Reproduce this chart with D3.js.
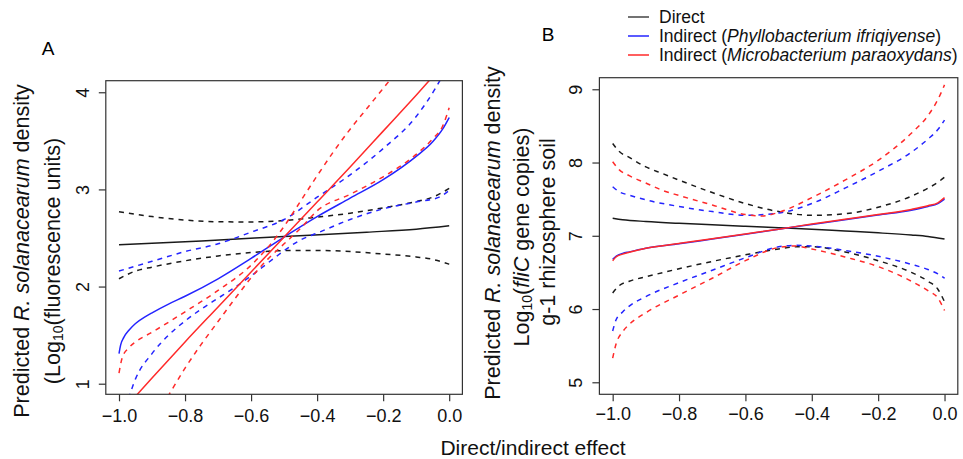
<!DOCTYPE html>
<html>
<head>
<meta charset="utf-8">
<script src="https://cdn.jsdelivr.net/npm/d3@7"></script>
<style>
  body { margin: 0; background: #fff; }
  svg { font-family: 'Liberation Sans', Arial, sans-serif; }
</style>
</head>
<body>
<div id="chart"></div>
<script>
// shared ticks
const xTicks = [-1.0, -0.8, -0.6, -0.4, -0.2, 0.0]
const aYTicks = [1, 2, 3, 4]
const bYTicks = [5, 6, 7, 8, 9]

const legendLabels = ['Direct', 'Phyllobacterium ifriqiyense', 'Microbacterium paraoxydans']

// panel A: fluorescence, [effect, predicted]
const aDirectFit = [[-1, 2.43], [-0.75, 2.47], [-0.5, 2.515], [-0.25, 2.56], [-0.1, 2.59], [0, 2.625]]
const aDirectLow = [[-1, 2.08], [-0.95, 2.16], [-0.9, 2.2], [-0.8, 2.265], [-0.7, 2.315], [-0.6, 2.35], [-0.5, 2.37],
  [-0.4, 2.372], [-0.3, 2.36], [-0.2, 2.335], [-0.1, 2.305], [-0.05, 2.28], [0, 2.23]]
const aDirectHigh = [[-1, 2.77], [-0.9, 2.72], [-0.8, 2.685], [-0.7, 2.667], [-0.6, 2.665], [-0.5, 2.68], [-0.4, 2.715],
  [-0.3, 2.755], [-0.2, 2.81], [-0.1, 2.875], [-0.05, 2.92], [0, 3.01]]

const aPhylloFit = [[-1, 1.31], [-0.995, 1.4], [-0.985, 1.48], [-0.97, 1.55], [-0.95, 1.62], [-0.92, 1.69], [-0.9, 1.73],
  [-0.85, 1.82], [-0.8, 1.9], [-0.7, 2.08], [-0.6, 2.29], [-0.5, 2.51], [-0.4, 2.72], [-0.3, 2.91], [-0.2, 3.1],
  [-0.1, 3.34], [-0.05, 3.49], [-0.02, 3.62], [0, 3.74]]
const aPhylloLow = [[-0.98, 0.75], [-0.95, 1.05], [-0.9, 1.31], [-0.85, 1.5], [-0.8, 1.645], [-0.75, 1.77], [-0.7, 1.88],
  [-0.65, 1.99], [-0.6, 2.11], [-0.55, 2.24], [-0.5, 2.37], [-0.45, 2.48], [-0.4, 2.55], [-0.3, 2.69], [-0.2, 2.8],
  [-0.1, 2.87], [-0.03, 2.92], [0, 2.99]]
const aPhylloHigh = [[-1, 2.16], [-0.9, 2.26], [-0.8, 2.36], [-0.7, 2.44], [-0.6, 2.56], [-0.5, 2.69], [-0.4, 2.92],
  [-0.3, 3.15], [-0.2, 3.42], [-0.1, 3.75], [-0.04, 4.05], [0, 4.3]]

const aMicroFit = [[-1, 0.68], [-0.9, 1.06], [-0.8, 1.43], [-0.7, 1.79], [-0.6, 2.15], [-0.5, 2.51], [-0.4, 2.87],
  [-0.3, 3.23], [-0.2, 3.6], [-0.1, 3.97], [0, 4.35]]
const aMicroLow = [[-0.9, 0.6], [-0.85, 0.88], [-0.8, 1.16], [-0.75, 1.41], [-0.7, 1.64], [-0.65, 1.87], [-0.6, 2.09],
  [-0.55, 2.28], [-0.5, 2.44], [-0.45, 2.6], [-0.4, 2.78], [-0.3, 2.95], [-0.2, 3.13], [-0.1, 3.36], [-0.05, 3.52],
  [-0.02, 3.65], [0, 3.84]]
const aMicroHigh = [[-1, 1.11], [-0.99, 1.27], [-0.97, 1.37], [-0.95, 1.43], [-0.9, 1.53], [-0.8, 1.74], [-0.7, 1.96],
  [-0.6, 2.22], [-0.55, 2.4], [-0.5, 2.62], [-0.45, 2.88], [-0.4, 3.14], [-0.35, 3.39], [-0.3, 3.62], [-0.25, 3.83],
  [-0.2, 4.04], [-0.15, 4.25]]

// panel B: fliC gene copies
const bDirectFit = [[-1, 7.24], [-0.97, 7.22], [-0.9, 7.195], [-0.8, 7.17], [-0.7, 7.15], [-0.6, 7.13], [-0.5, 7.11],
  [-0.4, 7.09], [-0.3, 7.065], [-0.2, 7.04], [-0.1, 7.01], [-0.05, 6.99], [0, 6.955]]
const bDirectLow = [[-1, 6.22], [-0.98, 6.32], [-0.95, 6.38], [-0.9, 6.44], [-0.8, 6.55], [-0.7, 6.65], [-0.6, 6.74],
  [-0.5, 6.82], [-0.45, 6.85], [-0.4, 6.85], [-0.3, 6.78], [-0.2, 6.66], [-0.1, 6.5], [-0.05, 6.38], [-0.02, 6.27], [0, 6.1]]
const bDirectHigh = [[-1, 8.26], [-0.98, 8.15], [-0.95, 8.07], [-0.9, 7.94], [-0.85, 7.85], [-0.8, 7.76], [-0.7, 7.59],
  [-0.6, 7.44], [-0.5, 7.33], [-0.4, 7.28], [-0.3, 7.3], [-0.2, 7.39], [-0.1, 7.54], [-0.05, 7.65], [-0.02, 7.73], [0, 7.8]]

const bPhylloFit = [[-1, 6.68], [-0.99, 6.72], [-0.97, 6.76], [-0.95, 6.78], [-0.9, 6.83], [-0.8, 6.89], [-0.7, 6.955],
  [-0.6, 7.02], [-0.5, 7.09], [-0.4, 7.155], [-0.3, 7.22], [-0.2, 7.285], [-0.1, 7.35], [-0.05, 7.4], [-0.02, 7.44], [0, 7.5]]
const bPhylloLow = [[-1, 5.7], [-0.99, 5.85], [-0.97, 5.96], [-0.95, 6.04], [-0.9, 6.17], [-0.8, 6.36], [-0.7, 6.53],
  [-0.6, 6.7], [-0.5, 6.85], [-0.45, 6.87], [-0.4, 6.86], [-0.3, 6.8], [-0.2, 6.72], [-0.1, 6.61], [-0.05, 6.54],
  [-0.02, 6.48], [0, 6.42]]
const bPhylloHigh = [[-1, 7.67], [-0.98, 7.6], [-0.95, 7.555], [-0.9, 7.49], [-0.8, 7.4], [-0.7, 7.33], [-0.6, 7.28],
  [-0.5, 7.31], [-0.4, 7.44], [-0.3, 7.65], [-0.2, 7.88], [-0.1, 8.14], [-0.05, 8.32], [-0.02, 8.45], [0, 8.58]]

const bMicroFit = [[-1, 6.66], [-0.99, 6.71], [-0.97, 6.75], [-0.95, 6.775], [-0.9, 6.83], [-0.8, 6.895], [-0.7, 6.96],
  [-0.6, 7.025], [-0.5, 7.09], [-0.4, 7.16], [-0.3, 7.225], [-0.2, 7.29], [-0.1, 7.36], [-0.05, 7.41], [-0.02, 7.45], [0, 7.52]]
const bMicroLow = [[-1, 5.33], [-0.99, 5.52], [-0.97, 5.69], [-0.95, 5.79], [-0.9, 5.95], [-0.8, 6.19], [-0.7, 6.42],
  [-0.6, 6.66], [-0.5, 6.84], [-0.45, 6.86], [-0.4, 6.82], [-0.3, 6.71], [-0.2, 6.58], [-0.1, 6.38], [-0.05, 6.25],
  [-0.02, 6.15], [0, 5.98]]
const bMicroHigh = [[-1, 8.01], [-0.98, 7.9], [-0.95, 7.82], [-0.9, 7.72], [-0.85, 7.62], [-0.8, 7.55], [-0.7, 7.42],
  [-0.6, 7.29], [-0.55, 7.27], [-0.5, 7.32], [-0.4, 7.52], [-0.3, 7.76], [-0.2, 8.03], [-0.1, 8.4], [-0.05, 8.64],
  [-0.02, 8.86], [0, 9.06]]

const colors = {direct: '#1a1a1a', phyllo: '#2424ff', micro: '#ff2a2a'}
const legendColors = ['#444', '#2424ff', '#ff2a2a']

const svg = d3.select('#chart').append('svg')
  .attr('width', 963)
  .attr('height', 459)

const fmt = d3.format('.1f')

function drawPanel(p) {
  const x = d3.scaleLinear().domain([-1.04, 0.04]).range([p.left, p.right])
  const y = d3.scaleLinear().domain(p.yDomain).range([p.bottom, p.top])

  svg.append('clipPath').attr('id', 'clip-' + p.name)
    .append('rect')
    .attr('x', p.left).attr('y', p.top)
    .attr('width', p.right - p.left).attr('height', p.bottom - p.top)

  const g = svg.append('g').attr('clip-path', `url(#clip-${p.name})`)
  const line = d3.line()
    .x((d) => x(d[0]))
    .y((d) => y(d[1]))
    .curve(d3.curveMonotoneX)

  p.series.forEach((s) => {
    g.append('path')
      .datum(s.data)
      .attr('d', line)
      .attr('fill', 'none')
      .attr('stroke', s.color)
      .attr('stroke-width', 1.5)
      .attr('stroke-dasharray', s.dashed ? '5,5' : null)
  })

  // box
  svg.append('rect')
    .attr('x', p.left).attr('y', p.top)
    .attr('width', p.right - p.left).attr('height', p.bottom - p.top)
    .attr('fill', 'none')
    .attr('stroke', '#333')
    .attr('stroke-width', 1.2)

  const xAxis = svg.append('g')
    .attr('transform', `translate(0,${p.bottom})`)
    .call(d3.axisBottom(x).tickValues(xTicks).tickSize(7).tickSizeOuter(0).tickFormat(fmt))
  xAxis.select('.domain').remove()
  xAxis.selectAll('line').attr('stroke', '#333').attr('stroke-width', 1.2)
  xAxis.selectAll('text')
    .attr('y', p.xLabelOffset).attr('dy', null)
    .attr('dominant-baseline', 'central')
    .attr('font-size', 18).attr('fill', '#111')

  const yAxis = svg.append('g')
    .attr('transform', `translate(${p.left},0)`)
    .call(d3.axisLeft(y).tickValues(p.yTicks).tickSize(7).tickSizeOuter(0).tickFormat(d3.format('d')))
  yAxis.select('.domain').remove()
  yAxis.selectAll('line').attr('stroke', '#333').attr('stroke-width', 1.2)
  yAxis.selectAll('text')
    .attr('x', null).attr('dy', null)
    .attr('transform', `translate(${-p.yLabelOffset},0) rotate(-90)`)
    .attr('text-anchor', 'middle')
    .attr('dominant-baseline', 'central')
    .attr('font-size', 18).attr('fill', '#111')

  // panel letter
  svg.append('text')
    .attr('x', p.letter[0]).attr('y', p.letter[1])
    .attr('text-anchor', 'middle').attr('dominant-baseline', 'central')
    .attr('font-size', 19)
    .text(p.name)

  // y title lines, each a list of [text, style] pieces
  p.yTitle.forEach((t) => {
    const txt = svg.append('text')
      .attr('transform', `translate(${t.x},${t.y}) rotate(-90)`)
      .attr('text-anchor', 'middle')
      .attr('dominant-baseline', 'central')
      .attr('font-size', 21.5)
      .attr('fill', '#111')
    t.parts.forEach((part) => {
      const ts = txt.append('tspan').text(part[0])
      if (part[1] === 'i') ts.attr('font-style', 'italic')
      if (part[1] === 'sub') ts.attr('font-size', 14).attr('dy', 5)
      if (part[1] === 'after') ts.attr('dy', -5)
    })
  })
}

drawPanel({
  name: 'A',
  left: 105.8, right: 462.4, top: 80.7, bottom: 394.3,
  yDomain: [0.891, 4.119],
  yTicks: aYTicks,
  xLabelOffset: 22,
  yLabelOffset: 23,
  letter: [48, 48],
  yTitle: [
    {x: 22, y: 251, parts: [['Predicted '], ['R. solanacearum', 'i'], [' density']]},
    {x: 53, y: 261, parts: [['(Log'], ['10', 'sub'], ['(fluorescence units)', 'after']]},
  ],
  series: [
    {data: aDirectLow, color: colors.direct, dashed: true},
    {data: aDirectHigh, color: colors.direct, dashed: true},
    {data: aDirectFit, color: colors.direct},
    {data: aPhylloLow, color: colors.phyllo, dashed: true},
    {data: aPhylloHigh, color: colors.phyllo, dashed: true},
    {data: aPhylloFit, color: colors.phyllo},
    {data: aMicroLow, color: colors.micro, dashed: true},
    {data: aMicroHigh, color: colors.micro, dashed: true},
    {data: aMicroFit, color: colors.micro},
  ],
})

drawPanel({
  name: 'B',
  left: 599.4, right: 957.8, top: 77.7, bottom: 394.3,
  yDomain: [4.836, 9.158],
  yTicks: bYTicks,
  xLabelOffset: 20,
  yLabelOffset: 23,
  letter: [548, 34],
  yTitle: [
    {x: 493, y: 233, parts: [['Predicted '], ['R. solanacearum', 'i'], [' density']]},
    {x: 522, y: 237, parts: [['Log'], ['10', 'sub'], ['(', 'after'], ['fliC', 'i'], [' gene copies)']]},
    {x: 548, y: 232, parts: [['g-1 rhizosphere soil']]},
  ],
  series: [
    {data: bDirectLow, color: colors.direct, dashed: true},
    {data: bDirectHigh, color: colors.direct, dashed: true},
    {data: bDirectFit, color: colors.direct},
    {data: bPhylloLow, color: colors.phyllo, dashed: true},
    {data: bPhylloHigh, color: colors.phyllo, dashed: true},
    {data: bPhylloFit, color: colors.phyllo},
    {data: bMicroLow, color: colors.micro, dashed: true},
    {data: bMicroHigh, color: colors.micro, dashed: true},
    {data: bMicroFit, color: colors.micro},
  ],
})

// shared x title
svg.append('text')
  .attr('x', 533).attr('y', 447)
  .attr('text-anchor', 'middle').attr('dominant-baseline', 'central')
  .attr('font-size', 21).attr('fill', '#111')
  .text('Direct/indirect effect')

// legend
const legend = svg.append('g')
legendLabels.forEach((lab, i) => {
  const yy = 17 + i * 19
  legend.append('line')
    .attr('x1', 628).attr('x2', 649).attr('y1', yy).attr('y2', yy)
    .attr('stroke', legendColors[i]).attr('stroke-width', 1.5)
  const t = legend.append('text')
    .attr('x', 659).attr('y', yy)
    .attr('dominant-baseline', 'central')
    .attr('font-size', 17.5).attr('fill', '#111')
  if (i === 0) {
    t.text(lab)
  } else {
    t.append('tspan').text('Indirect (')
    t.append('tspan').attr('font-style', 'italic').text(lab)
    t.append('tspan').text(')')
  }
})
</script>
</body>
</html>
